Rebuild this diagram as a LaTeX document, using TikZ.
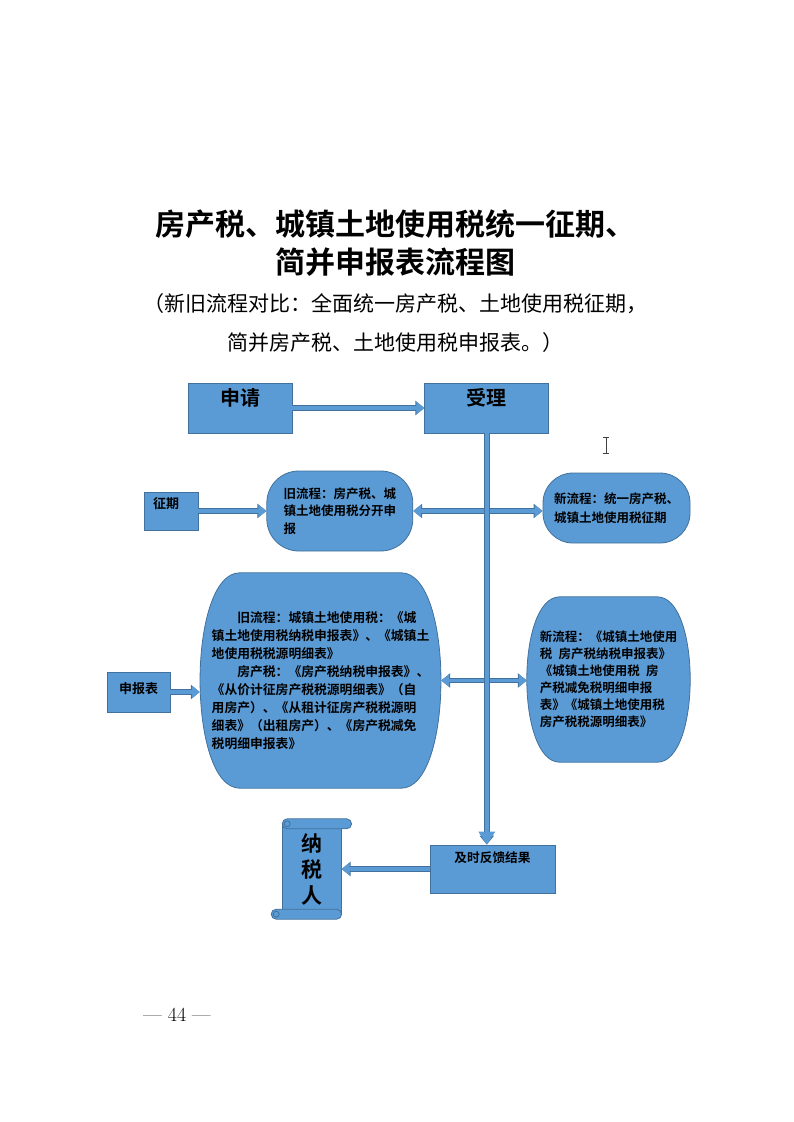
\documentclass[tikz,border=0pt]{standalone}
\usepackage{fontspec}
\newfontfamily\cjk{Noto Sans CJK SC}[BoldFont={Noto Sans CJK SC Bold}]
\usetikzlibrary{arrows.meta,positioning,backgrounds}
\definecolor{boxblue}{HTML}{5B9BD5}
\definecolor{edgeblue}{HTML}{41719C}

\begin{document}
\begin{tikzpicture}[x=1pt,y=-1pt,
    box/.style={draw=edgeblue,fill=boxblue,line width=0.8pt,inner sep=0pt,font=\cjk\bfseries\fontsize{13}{15}\selectfont},
    bubble/.style={draw=edgeblue,fill=boxblue,line width=0.8pt},
    bubble text/.style={inner sep=0pt,align=left,font=\cjk\bfseries\fontsize{12.5}{18}\selectfont},
    flow/.style={draw=boxblue,line width=3.5pt,-{Triangle[length=8pt,width=12pt]},
        preaction={draw=edgeblue,line width=5.5pt,-{Triangle[length=9pt,width=14pt]}}}]
\useasboundingbox (0,0) rectangle (793,1122);

% heading
\node[font=\cjk\bfseries\fontsize{30}{38}\selectfont,align=center] (title) at (395,243)
    {房产税、城镇土地使用税统一征期、\\简并申报表流程图};
\node[font=\cjk\fontsize{21}{39}\selectfont,align=center] (subtitle) at (395,323.5)
    {（新旧流程对比：全面统一房产税、土地使用税征期，\\简并房产税、土地使用税申报表。）};

% top row
\node[box,minimum width=104pt,minimum height=50pt,text height=22pt,text depth=28pt,
    font=\cjk\bfseries\fontsize{20}{22}\selectfont] (apply) at (240,408) {申请};
\node[box,minimum width=124pt,minimum height=50pt,text height=22pt,text depth=28pt,
    font=\cjk\bfseries\fontsize{20}{22}\selectfont] (accept) [right=132pt of apply] {受理};

% levy period
\node[box,minimum width=54pt,minimum height=38pt,text height=16pt,text depth=22pt] (period) at (171,511) {征期\hspace*{10pt}};
\node[bubble,bubble text,minimum width=146pt,minimum height=80pt,rounded corners=32pt,
    font=\cjk\bfseries\fontsize{12.5}{17.5}\selectfont] (old1) [right=68pt of period]
    {旧流程：房产税、城\\镇土地使用税分开申\\报};
\node[bubble,bubble text,minimum width=147pt,minimum height=70pt,rounded corners=30pt,
    font=\cjk\bfseries\fontsize{12.5}{19}\selectfont] (new1) at (616.5,508)
    {新流程：统一房产税、\\城镇土地使用税征期};

% returns
\node[box,minimum width=63pt,minimum height=40pt,text height=21pt,text depth=19pt] (forms) at (138.5,692) {申报表};
\node[bubble text,minimum width=241pt,minimum height=215pt,
    font=\cjk\bfseries\fontsize{12.8}{18}\selectfont] (old2) at (320.5,680.5)
    {\hspace*{2em}旧流程：城镇土地使用税：《城\\
     镇土地使用税纳税申报表》、《城镇土\\
     地使用税税源明细表》\\
     \hspace*{2em}房产税：《房产税纳税申报表》、\\
     《从价计征房产税税源明细表》（自\\
     用房产）、《从租计征房产税税源明\\
     细表》（出租房产）、《房产税减免\\
     税明细申报表》};
\node[bubble text,minimum width=163pt,minimum height=165pt,
    font=\cjk\bfseries\fontsize{12.5}{17}\selectfont] (new2) at (608.5,679.5)
    {新流程：《城镇土地使用\\
     税\enspace 房产税纳税申报表》\\
     《城镇土地使用税\enspace 房\\
     产税减免税明细申报\\
     表》《城镇土地使用税\\
     房产税税源明细表》};

% result
\node[box,minimum width=125pt,minimum height=48pt,text height=17pt,text depth=31pt,
    font=\cjk\bfseries\fontsize{12.7}{15}\selectfont] (result) at (492.5,869) {及时反馈结果};
\node[inner sep=0pt,minimum width=59pt,minimum height=100pt,align=center,
    font=\cjk\bfseries\fontsize{21}{26}\selectfont] (payer) [left=88pt of result] {纳\\税\\人};

\begin{scope}[on background layer]
    % barrel outlines
    \draw[bubble] ([xshift=40pt]old2.north west) -- ([xshift=-40pt]old2.north east)
        .. controls ([xshift=13pt]old2.north east) and ([xshift=13pt]old2.south east) .. ([xshift=-40pt]old2.south east)
        -- ([xshift=40pt]old2.south west)
        .. controls ([xshift=-13pt]old2.south west) and ([xshift=-13pt]old2.north west) .. cycle;
    \draw[bubble] ([xshift=33pt]new2.north west) -- ([xshift=-33pt]new2.north east)
        .. controls ([xshift=11pt]new2.north east) and ([xshift=11pt]new2.south east) .. ([xshift=-33pt]new2.south east)
        -- ([xshift=33pt]new2.south west)
        .. controls ([xshift=-11pt]new2.south west) and ([xshift=-11pt]new2.north west) .. cycle;
    % scroll
    \draw[bubble] ([yshift=-5pt]payer.north west) rectangle ([yshift=5pt]payer.south east);
    \draw[bubble,rounded corners=5pt] (payer.north west) rectangle ([xshift=10pt,yshift=-10pt]payer.north east);
    \draw[bubble] ([xshift=5pt,yshift=-5pt]payer.north west) circle (3pt);
    \draw[bubble,rounded corners=5pt] ([xshift=-11pt,yshift=10pt]payer.south west) rectangle (payer.south east);
    \draw[bubble] ([xshift=-6pt,yshift=5pt]payer.south west) circle (3pt);
\end{scope}

\coordinate (j1) at (accept.south |- old1.east);
\coordinate (j2) at (accept.south |- old2.east);

\draw[flow] (apply.east) -- (accept.west);
\draw[flow,-{Triangle[length=13pt,width=16pt]}] (accept.south) -- (accept.south |- result.north);
\draw[flow] (period.east) -- (period.east -| old1.west);
\draw[flow,shorten <=3pt] (j1) -- (old1.east |- j1);
\draw[flow,shorten <=3pt] (j1) -- (j1 -| new1.west);
\draw[flow] (forms.east) -- (forms.east -| old2.west);
\draw[flow,shorten <=3pt] (j2) -- (old2.east);
\draw[flow,shorten <=3pt] (j2) -- (j2 -| new2.west);
\draw[flow] (result.west) -- (result.west -| payer.east);

% text cursor
\draw[black!75,line width=0.9pt] (606,438) -- (606,453) (603,437.5) -- (609,437.5) (603,453.5) -- (609,453.5);

% page number
\node[font=\fontsize{20}{22}\selectfont] (pageno) at (177,1015) {— 44 —};
\end{tikzpicture}
\end{document}
